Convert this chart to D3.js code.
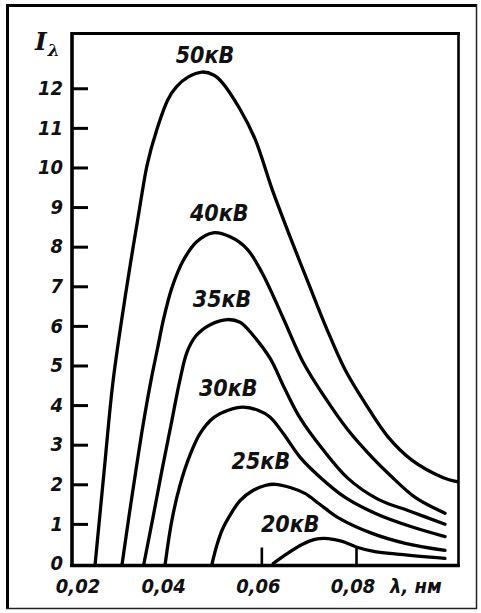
<!DOCTYPE html>
<html><head><meta charset="utf-8">
<script src="https://cdn.jsdelivr.net/npm/d3@7"></script>
<style>
html,body{margin:0;padding:0;background:#fff;}
svg{display:block;}
.lbl{font-family:"DejaVu Sans Condensed","DejaVu Sans",sans-serif;font-style:italic;font-weight:bold;fill:#111;}
</style></head>
<body>
<script>
// ---- data (wavelength in nm, relative intensity) ----
const voltages = ["50кВ","40кВ","35кВ","30кВ","25кВ","20кВ"];
const lam50 = [0.0249,0.0268,0.0287,0.0314,0.0344,0.0359,0.0378,0.0403,0.0420,0.0445,0.0475,0.0500,0.0517,0.0555,0.0587,0.0623,0.0663,0.0699,0.0739,0.0777,0.0819,0.0868,0.0918,0.0982,0.1016];
const int50 = [0,2.35,4.63,6.86,9.06,10.08,10.91,11.72,12.03,12.28,12.41,12.33,12.15,11.47,10.71,9.44,8.18,7.09,5.90,4.89,4.05,3.19,2.61,2.18,2.06];
const lam40 = [0.0306,0.0320,0.0335,0.0350,0.0367,0.0380,0.0394,0.0411,0.0435,0.0464,0.0498,0.0534,0.0570,0.0602,0.0646,0.0688,0.0735,0.0783,0.0834,0.0872,0.0925,0.0988];
const int40 = [0,1.16,2.35,3.49,4.63,5.39,6.20,6.96,7.65,8.13,8.35,8.25,7.94,7.33,6.20,5.09,4.18,3.37,2.68,2.23,1.67,1.27];
const lam35 = [0.0352,0.0371,0.0390,0.0409,0.0428,0.0443,0.0462,0.0492,0.0528,0.0555,0.0582,0.0618,0.0650,0.0682,0.0728,0.0783,0.0847,0.0914,0.0988];
const int35 = [0,1.16,2.35,3.49,4.63,5.34,5.75,6.03,6.16,6.09,5.77,5.19,4.40,3.67,2.91,2.15,1.62,1.32,0.99];
const lam30 = [0.0397,0.0411,0.0428,0.0449,0.0471,0.0498,0.0530,0.0561,0.0593,0.0618,0.0646,0.0682,0.0724,0.0777,0.0840,0.0914,0.0988];
const int30 = [0,1.09,1.97,2.73,3.29,3.67,3.87,3.95,3.87,3.70,3.29,2.68,2.18,1.67,1.27,0.94,0.68];
const lam25 = [0.0496,0.0506,0.0517,0.0534,0.0555,0.0583,0.0608,0.0629,0.0661,0.0692,0.0724,0.0762,0.0834,0.0904,0.0988];
const int25 = [0,0.46,0.84,1.22,1.59,1.85,1.97,2.00,1.92,1.77,1.49,1.16,0.76,0.51,0.33];
const lam20 = [0.0625,0.0640,0.0661,0.0686,0.0713,0.0741,0.0771,0.0802,0.0840,0.0893,0.0988];
const int20 = [0,0.13,0.30,0.48,0.61,0.63,0.56,0.41,0.30,0.23,0.13];
const yTicks = [0,1,2,3,4,5,6,7,8,9,10,11,12];
const xTickLabels = [0.02,0.04,0.06,0.08];
const xTickMarks = [0.06,0.08];
const xUnit = "λ, нм";
// label anchor points (data coordinates): centre wavelength, baseline intensity
const labelLam = [0.0481,0.0511,0.0517,0.0530,0.0599,0.0661];
const labelInt = [12.64,8.65,6.48,4.23,2.39,0.80];

// ---- layout ----
const W = 481, H = 613;
const svg = d3.select("body").append("svg").attr("width",W).attr("height",H);
svg.append("rect").attr("width",W).attr("height",H).attr("fill","#fff");

const x = d3.scaleLinear().domain([0.02,0.10165]).range([72,458.5]);
const y = d3.scaleLinear().domain([0,13.35]).range([563.5,34.8]);
const [x0,x1] = x.range(); const [yb,yt] = y.range();

// outer frame
svg.append("line").attr("x1",7.5).attr("x2",7.5).attr("y1",4).attr("y2",609).attr("stroke","#000").attr("stroke-width",3);
svg.append("line").attr("x1",6).attr("x2",477).attr("y1",5.5).attr("y2",5.5).attr("stroke","#000").attr("stroke-width",3);
svg.append("line").attr("x1",476.5).attr("x2",476.5).attr("y1",4).attr("y2",609).attr("stroke","#222").attr("stroke-width",1.5);
svg.append("line").attr("x1",6).attr("x2",477).attr("y1",608.5).attr("y2",608.5).attr("stroke","#222").attr("stroke-width",1.5);

// clip
svg.append("clipPath").attr("id","pc").append("rect")
  .attr("x",x0).attr("y",yt).attr("width",x1-x0).attr("height",yb-yt+2);

// curves
const series = [[lam50,int50],[lam40,int40],[lam35,int35],[lam30,int30],[lam25,int25],[lam20,int20]];
const line = d3.line().x(d=>x(d[0])).y(d=>y(d[1])).curve(d3.curveCatmullRom.alpha(0.5));
const g = svg.append("g").attr("clip-path","url(#pc)");
series.forEach(([L,I])=>{
  g.append("path").datum(L.map((l,i)=>[l,I[i]]))
    .attr("d",line).attr("fill","none").attr("stroke","#000")
    .attr("stroke-width",3.3).attr("stroke-linejoin","round").attr("stroke-linecap","round");
});

// plot frame
svg.append("line").attr("x1",x0).attr("x2",x1+1.5).attr("y1",yt-1.3).attr("y2",yt-1.3).attr("stroke","#000").attr("stroke-width",3);
svg.append("line").attr("x1",x1).attr("x2",x1).attr("y1",yt-2.5).attr("y2",yb+3.5).attr("stroke","#000").attr("stroke-width",2.6);

// y axis (ticks inward)
const yAxis = d3.axisRight(y).tickValues(yTicks.filter(v=>v>0)).tickSize(16).tickFormat("");
const ya = svg.append("g").attr("transform",`translate(${x0},0)`).call(yAxis);
ya.select(".domain").remove();
ya.selectAll(".tick line").attr("stroke","#000").attr("stroke-width",3);
svg.append("line").attr("x1",x0).attr("x2",x0).attr("y1",yt-2.8).attr("y2",yb+3.5).attr("stroke","#000").attr("stroke-width",3.6);
svg.selectAll(".ylab").data(yTicks).join("text").attr("class","lbl")
  .attr("x",63).attr("y",d=>y(d)).attr("dy","0.34em").attr("text-anchor","end")
  .attr("font-size",20).text(d=>d);

// x axis
const xAxis = d3.axisTop(x).tickValues(xTickMarks).tickSize(18).tickFormat("");
const xa = svg.append("g").attr("transform",`translate(0,${yb+2})`).call(xAxis);
xa.select(".domain").remove();
xa.selectAll(".tick line").attr("stroke","#000").attr("stroke-width",2.6);
svg.append("line").attr("x1",x0-2).attr("x2",x1+1.3).attr("y1",yb+2).attr("y2",yb+2).attr("stroke","#000").attr("stroke-width",3.6);
svg.selectAll(".xlab").data(xTickLabels).join("text").attr("class","lbl")
  .attr("x",(d,i)=>x(d)+(i===0?6:-3)).attr("y",593).attr("text-anchor","middle")
  .attr("font-size",20).text(d=>d3.format(".2f")(d).replace(".",","));
svg.append("text").attr("class","lbl").attr("x",390).attr("y",593).attr("font-size",20).text(xUnit);

// y label I_λ
const yl = svg.append("text").attr("x",35).attr("y",50)
  .style("font-family","'DejaVu Serif','Liberation Serif',serif").style("font-style","italic").style("font-weight","bold").attr("fill","#111");
yl.append("tspan").attr("font-size",25).text("I");
yl.append("tspan").attr("font-size",17).attr("dy",6).attr("dx",1).text("λ");

// curve labels
svg.selectAll(".clab").data(voltages).join("text").attr("class","lbl")
  .attr("x",(d,i)=>x(labelLam[i])).attr("y",(d,i)=>y(labelInt[i]))
  .attr("text-anchor","middle").attr("font-size",23).text(d=>d);
</script>
</body></html>
